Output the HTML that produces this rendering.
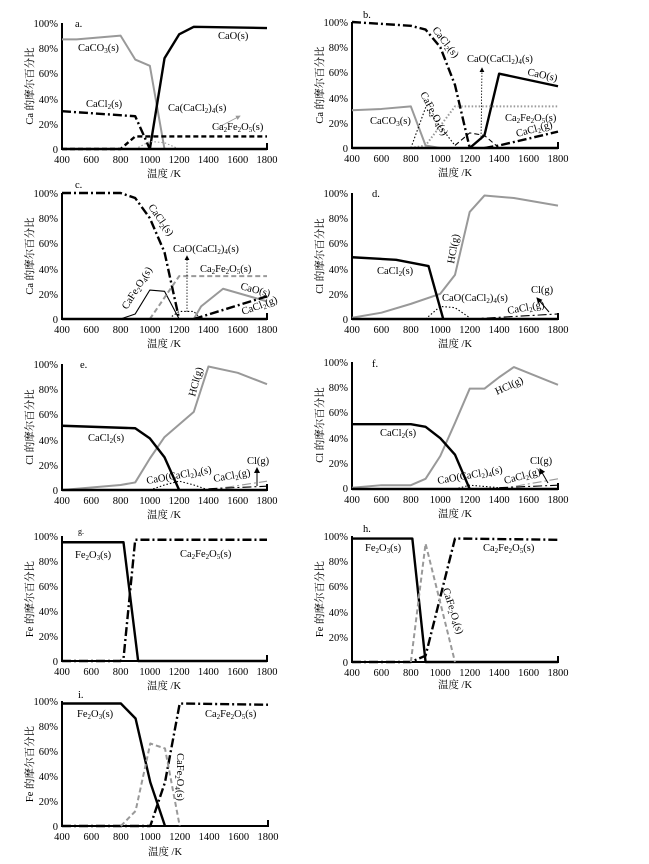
<!DOCTYPE html>
<html><head><meta charset="utf-8"><style>
html,body{margin:0;padding:0;background:#fff;}
svg{display:block;font-family:"Liberation Serif","Noto Serif CJK SC",serif;}
.ax{fill:none;stroke:#000;stroke-width:2}
.tk{font-size:10.5px}
.lb{font-size:10.5px}
.d{fill:none;vector-effect:non-scaling-stroke;stroke-linejoin:round}
.k{stroke:#000;stroke-width:2.4}
.g{stroke:#999;stroke-width:2}
.dd{stroke-dasharray:9 3 2 3}
.da{stroke-dasharray:5 3}
.do{stroke-dasharray:1.5 2}
.thin{stroke-width:1.1}
</style></head><body>
<svg width="649" height="864" viewBox="0 0 649 864" xmlns="http://www.w3.org/2000/svg">
<defs><marker id="ar" markerWidth="6" markerHeight="6" refX="5" refY="3" orient="auto"><path d="M0,0 L6,3 L0,6 z" fill="#000"/></marker>
<marker id="arg" markerWidth="6" markerHeight="6" refX="5" refY="3" orient="auto"><path d="M0,0 L6,3 L0,6 z" fill="#999"/></marker></defs>

<!-- Panel a -->
<g transform="translate(62,23)">
<path class="ax" d="M0,0 V126 H205 V120"/>
<g class="tk" text-anchor="end"><text x="-4" y="4">100%</text><text x="-4" y="29">80%</text><text x="-4" y="54">60%</text><text x="-4" y="80">40%</text><text x="-4" y="105">20%</text><text x="-4" y="130">0</text></g>
<g class="tk" text-anchor="middle"><text x="0" y="140">400</text><text x="29.3" y="140">600</text><text x="58.6" y="140">800</text><text x="87.9" y="140">1000</text><text x="117.1" y="140">1200</text><text x="146.4" y="140">1400</text><text x="175.7" y="140">1600</text><text x="205" y="140">1800</text></g>
<text class="lb" x="102" y="154" text-anchor="middle">温度 /K</text>
<text class="lb" transform="translate(-29,63) rotate(-90)" text-anchor="middle">Ca 的摩尔百分比</text>
<g transform="translate(0,126) scale(0.14643,-1.26) translate(-400,0)">
<polyline class="d g" points="400,87 500,87 800,90 900,71 1000,66 1100,0"/>
<polyline class="d k" points="1000,0 1100,72 1200,91 1300,97 1800,96"/>
<polyline class="d k dd" points="400,30 900,26 1000,0"/>
<polyline class="d k da" points="400,0 800,0 900,10 1800,10"/>
<polyline class="d g do thin" points="900,0 1000,6 1100,5 1200,0"/>
<polyline class="d k" points="400,0 1800,0"/>
</g></g>
<line x1="217" y1="128" x2="240" y2="116" stroke="#999" stroke-width="0.8" marker-end="url(#arg)"/>
<g class="lb"><text x="75" y="27">a.</text><text x="78" y="51">CaCO<tspan font-size="7" dy="2">3</tspan><tspan dy="-2">(s)</tspan></text>
<text x="218" y="39">CaO(s)</text><text x="86" y="107">CaCl<tspan font-size="7" dy="2">2</tspan><tspan dy="-2">(s)</tspan></text>
<text x="168" y="111">Ca(CaCl<tspan font-size="7" dy="2">2</tspan><tspan dy="-2">)</tspan><tspan font-size="7" dy="2">4</tspan><tspan dy="-2">(s)</tspan></text>
<text x="212" y="130">Ca<tspan font-size="7" dy="2">2</tspan><tspan dy="-2">Fe</tspan><tspan font-size="7" dy="2">2</tspan><tspan dy="-2">O</tspan><tspan font-size="7" dy="2">5</tspan><tspan dy="-2">(s)</tspan></text></g>

<!-- Panel b -->
<g transform="translate(352,22)">
<path class="ax" d="M0,0 V126 H206 V120"/>
<g class="tk" text-anchor="end"><text x="-4" y="4">100%</text><text x="-4" y="29">80%</text><text x="-4" y="54">60%</text><text x="-4" y="80">40%</text><text x="-4" y="105">20%</text><text x="-4" y="130">0</text></g>
<g class="tk" text-anchor="middle"><text x="0" y="140">400</text><text x="29.4" y="140">600</text><text x="58.9" y="140">800</text><text x="88.3" y="140">1000</text><text x="117.7" y="140">1200</text><text x="147.1" y="140">1400</text><text x="176.6" y="140">1600</text><text x="206" y="140">1800</text></g>
<text class="lb" x="103" y="154" text-anchor="middle">温度 /K</text>
<text class="lb" transform="translate(-29,63) rotate(-90)" text-anchor="middle">Ca 的摩尔百分比</text>
<g transform="translate(0,126) scale(0.14714,-1.26) translate(-400,0)">
<polyline class="d k dd" points="400,100 800,97 900,94 1000,80 1100,50 1200,0"/>
<polyline class="d k" points="1200,0 1300,10 1400,59 1800,49"/>
<polyline class="d g" points="400,30 600,31 800,33 900,2 1000,0"/>
<polyline class="d k do thin" points="800,0 900,32 1100,2"/>
<polyline class="d g do" points="800,0 900,2 1100,33 1800,33"/>
<polyline class="d k da thin" points="1100,2 1200,12 1300,10 1400,0"/>
<polyline class="d k dd" points="1300,0 1400,2 1800,13"/>
<polyline class="d k" points="400,0 1800,0"/>
</g></g>
<line x1="481" y1="140" x2="482" y2="68" stroke="#000" stroke-width="0.8" stroke-dasharray="1.5 1.5" marker-end="url(#ar)"/>
<g class="lb"><text x="363" y="18">b.</text>
<text transform="translate(432,30) rotate(52)">CaCl<tspan font-size="7" dy="2">2</tspan><tspan dy="-2">(s)</tspan></text>
<text x="467" y="62">CaO(CaCl<tspan font-size="7" dy="2">2</tspan><tspan dy="-2">)</tspan><tspan font-size="7" dy="2">4</tspan><tspan dy="-2">(s)</tspan></text>
<text transform="translate(527,75) rotate(12)">CaO(s)</text>
<text x="370" y="124">CaCO<tspan font-size="7" dy="2">3</tspan><tspan dy="-2">(s)</tspan></text>
<text transform="translate(420,94) rotate(62)">CaFe<tspan font-size="7" dy="2">2</tspan><tspan dy="-2">O</tspan><tspan font-size="7" dy="2">4</tspan><tspan dy="-2">(s)</tspan></text>
<text x="505" y="121">Ca<tspan font-size="7" dy="2">2</tspan><tspan dy="-2">Fe</tspan><tspan font-size="7" dy="2">2</tspan><tspan dy="-2">O</tspan><tspan font-size="7" dy="2">5</tspan><tspan dy="-2">(s)</tspan></text>
<text transform="translate(517,137) rotate(-15)">CaCl<tspan font-size="7" dy="2">2</tspan><tspan dy="-2">(g)</tspan></text></g>

<!-- Panel c -->
<g transform="translate(62,193)">
<path class="ax" d="M0,0 V126 H205 V120"/>
<g class="tk" text-anchor="end"><text x="-4" y="4">100%</text><text x="-4" y="29">80%</text><text x="-4" y="54">60%</text><text x="-4" y="80">40%</text><text x="-4" y="105">20%</text><text x="-4" y="130">0</text></g>
<g class="tk" text-anchor="middle"><text x="0" y="140">400</text><text x="29.3" y="140">600</text><text x="58.6" y="140">800</text><text x="87.9" y="140">1000</text><text x="117.1" y="140">1200</text><text x="146.4" y="140">1400</text><text x="175.7" y="140">1600</text><text x="205" y="140">1800</text></g>
<text class="lb" x="102" y="154" text-anchor="middle">温度 /K</text>
<text class="lb" transform="translate(-29,63) rotate(-90)" text-anchor="middle">Ca 的摩尔百分比</text>
<g transform="translate(0,126) scale(0.14643,-1.26) translate(-400,0)">
<polyline class="d k dd" points="400,100 800,100 900,96 1000,80 1100,53 1200,0"/>
<polyline class="d k thin" points="800,0 900,4 1000,23 1100,22 1200,0"/>
<polyline class="d g da" points="1000,0 1200,34 1800,34"/>
<polyline class="d k do thin" points="1150,2 1200,6 1300,6 1350,0"/>
<polyline class="d g" points="1300,0 1350,10 1500,24 1800,14"/>
<polyline class="d k dd" points="1300,0 1800,18"/>
<polyline class="d k" points="400,0 1800,0"/>
</g></g>
<line x1="187" y1="312" x2="187" y2="256" stroke="#000" stroke-width="0.8" stroke-dasharray="1.5 1.5" marker-end="url(#ar)"/>
<g class="lb"><text x="75" y="188">c.</text>
<text transform="translate(148,207) rotate(55)">CaCl<tspan font-size="7" dy="2">2</tspan><tspan dy="-2">(s)</tspan></text>
<text x="173" y="252">CaO(CaCl<tspan font-size="7" dy="2">2</tspan><tspan dy="-2">)</tspan><tspan font-size="7" dy="2">4</tspan><tspan dy="-2">(s)</tspan></text>
<text x="200" y="272">Ca<tspan font-size="7" dy="2">2</tspan><tspan dy="-2">Fe</tspan><tspan font-size="7" dy="2">2</tspan><tspan dy="-2">O</tspan><tspan font-size="7" dy="2">5</tspan><tspan dy="-2">(s)</tspan></text>
<text transform="translate(127,310) rotate(-58)">CaFe<tspan font-size="7" dy="2">2</tspan><tspan dy="-2">O</tspan><tspan font-size="7" dy="2">4</tspan><tspan dy="-2">(s)</tspan></text>
<text transform="translate(240,289) rotate(15)">CaO(s)</text>
<text transform="translate(243,315) rotate(-20)">CaCl<tspan font-size="7" dy="2">2</tspan><tspan dy="-2">(g)</tspan></text></g>

<!-- Panel d -->
<g transform="translate(352,193)">
<path class="ax" d="M0,0 V126 H206 V120"/>
<g class="tk" text-anchor="end"><text x="-4" y="4">100%</text><text x="-4" y="29">80%</text><text x="-4" y="54">60%</text><text x="-4" y="80">40%</text><text x="-4" y="105">20%</text><text x="-4" y="130">0</text></g>
<g class="tk" text-anchor="middle"><text x="0" y="140">400</text><text x="29.4" y="140">600</text><text x="58.9" y="140">800</text><text x="88.3" y="140">1000</text><text x="117.7" y="140">1200</text><text x="147.1" y="140">1400</text><text x="176.6" y="140">1600</text><text x="206" y="140">1800</text></g>
<text class="lb" x="103" y="154" text-anchor="middle">温度 /K</text>
<text class="lb" transform="translate(-29,63) rotate(-90)" text-anchor="middle">Cl 的摩尔百分比</text>
<g transform="translate(0,126) scale(0.14714,-1.26) translate(-400,0)">
<polyline class="d g" points="400,1 600,5 800,12 1000,20 1100,35 1200,85 1300,98 1500,96 1800,90"/>
<polyline class="d k" points="400,49 700,47 920,42 1020,0"/>
<polyline class="d k do thin" points="900,0 1000,10 1100,9 1200,1"/>
<polyline class="d k dd thin" points="1200,0 1800,4"/>
<polyline class="d k" points="400,0 1800,0"/>
</g></g>
<line x1="549" y1="312" x2="537" y2="298" stroke="#000" stroke-width="1" marker-end="url(#ar)"/>
<g class="lb"><text x="372" y="197">d.</text>
<text transform="translate(454,264) rotate(-80)">HCl(g)</text>
<text x="377" y="274">CaCl<tspan font-size="7" dy="2">2</tspan><tspan dy="-2">(s)</tspan></text>
<text x="442" y="301">CaO(CaCl<tspan font-size="7" dy="2">2</tspan><tspan dy="-2">)</tspan><tspan font-size="7" dy="2">4</tspan><tspan dy="-2">(s)</tspan></text>
<text transform="translate(508,314) rotate(-10)">CaCl<tspan font-size="7" dy="2">2</tspan><tspan dy="-2">(g)</tspan></text>
<text x="531" y="293">Cl(g)</text></g>

<!-- Panel e -->
<g transform="translate(62,364)">
<path class="ax" d="M0,0 V126 H205 V120"/>
<g class="tk" text-anchor="end"><text x="-4" y="4">100%</text><text x="-4" y="29">80%</text><text x="-4" y="54">60%</text><text x="-4" y="80">40%</text><text x="-4" y="105">20%</text><text x="-4" y="130">0</text></g>
<g class="tk" text-anchor="middle"><text x="0" y="140">400</text><text x="29.3" y="140">600</text><text x="58.6" y="140">800</text><text x="87.9" y="140">1000</text><text x="117.1" y="140">1200</text><text x="146.4" y="140">1400</text><text x="175.7" y="140">1600</text><text x="205" y="140">1800</text></g>
<text class="lb" x="102" y="154" text-anchor="middle">温度 /K</text>
<text class="lb" transform="translate(-29,63) rotate(-90)" text-anchor="middle">Cl 的摩尔百分比</text>
<g transform="translate(0,126) scale(0.14643,-1.26) translate(-400,0)">
<polyline class="d g" points="400,0 800,4 900,6 1000,25 1100,42 1300,62 1400,98 1600,93 1800,84"/>
<polyline class="d k" points="400,51 900,49 1000,41 1100,26 1200,0"/>
<polyline class="d k do thin" points="1000,0 1100,4 1200,7 1300,4 1400,0"/>
<polyline class="d g dd thin" points="1400,0 1800,7"/>
<polyline class="d k dd thin" points="1400,1 1800,3"/>
<polyline class="d k" points="400,0 1800,0"/>
</g></g>
<line x1="257" y1="486" x2="257" y2="468" stroke="#000" stroke-width="1" marker-end="url(#ar)"/>
<g class="lb"><text x="80" y="368">e.</text>
<text transform="translate(195,397) rotate(-75)">HCl(g)</text>
<text x="88" y="441">CaCl<tspan font-size="7" dy="2">2</tspan><tspan dy="-2">(s)</tspan></text>
<text transform="translate(147,484) rotate(-10)">CaO(CaCl<tspan font-size="7" dy="2">2</tspan><tspan dy="-2">)</tspan><tspan font-size="7" dy="2">4</tspan><tspan dy="-2">(s)</tspan></text>
<text transform="translate(214,482) rotate(-10)">CaCl<tspan font-size="7" dy="2">2</tspan><tspan dy="-2">(g)</tspan></text>
<text x="247" y="464">Cl(g)</text></g>

<!-- Panel f -->
<g transform="translate(352,362)">
<path class="ax" d="M0,0 V127 H206 V121"/>
<g class="tk" text-anchor="end"><text x="-4" y="4">100%</text><text x="-4" y="29">80%</text><text x="-4" y="54">60%</text><text x="-4" y="80">40%</text><text x="-4" y="105">20%</text><text x="-4" y="130">0</text></g>
<g class="tk" text-anchor="middle"><text x="0" y="141">400</text><text x="29.4" y="141">600</text><text x="58.9" y="141">800</text><text x="88.3" y="141">1000</text><text x="117.7" y="141">1200</text><text x="147.1" y="141">1400</text><text x="176.6" y="141">1600</text><text x="206" y="141">1800</text></g>
<text class="lb" x="103" y="155" text-anchor="middle">温度 /K</text>
<text class="lb" transform="translate(-29,63) rotate(-90)" text-anchor="middle">Cl 的摩尔百分比</text>
<g transform="translate(0,127) scale(0.14714,-1.27) translate(-400,0)">
<polyline class="d g" points="400,1 600,3 800,3 900,8 1000,26 1100,52 1200,79 1300,79 1400,88 1500,96 1800,82"/>
<polyline class="d k" points="400,51 800,51 900,49 1000,40 1100,27 1200,0"/>
<polyline class="d k do thin" points="1100,0 1200,3 1400,1"/>
<polyline class="d g dd thin" points="1400,0 1800,8"/>
<polyline class="d k dd thin" points="1400,1 1800,3"/>
<polyline class="d k" points="400,0 1800,0"/>
</g></g>
<line x1="548" y1="483" x2="540" y2="469" stroke="#000" stroke-width="1" marker-end="url(#ar)"/>
<g class="lb"><text x="372" y="367">f.</text>
<text transform="translate(497,395) rotate(-25)">HCl(g)</text>
<text x="380" y="436">CaCl<tspan font-size="7" dy="2">2</tspan><tspan dy="-2">(s)</tspan></text>
<text transform="translate(438,484) rotate(-10)">CaO(CaCl<tspan font-size="7" dy="2">2</tspan><tspan dy="-2">)</tspan><tspan font-size="7" dy="2">4</tspan><tspan dy="-2">(s)</tspan></text>
<text transform="translate(505,484) rotate(-15)">CaCl<tspan font-size="7" dy="2">2</tspan><tspan dy="-2">(g)</tspan></text>
<text x="530" y="464">Cl(g)</text></g>

<!-- Panel g -->
<g transform="translate(62,536)">
<path class="ax" d="M0,0 V125 H205 V119"/>
<g class="tk" text-anchor="end"><text x="-4" y="4">100%</text><text x="-4" y="29">80%</text><text x="-4" y="54">60%</text><text x="-4" y="79">40%</text><text x="-4" y="104">20%</text><text x="-4" y="129">0</text></g>
<g class="tk" text-anchor="middle"><text x="0" y="139">400</text><text x="29.3" y="139">600</text><text x="58.6" y="139">800</text><text x="87.9" y="139">1000</text><text x="117.1" y="139">1200</text><text x="146.4" y="139">1400</text><text x="175.7" y="139">1600</text><text x="205" y="139">1800</text></g>
<text class="lb" x="102" y="153" text-anchor="middle">温度 /K</text>
<text class="lb" transform="translate(-29,63) rotate(-90)" text-anchor="middle">Fe 的摩尔百分比</text>
<g transform="translate(0,125) scale(0.14643,-1.25) translate(-400,0)">
<polyline class="d k" points="400,95 820,95 920,0 1800,0"/>
<polyline class="d k dd" points="400,0 800,0 820,2 900,97 1800,97"/>
</g></g>
<g class="lb"><text x="78" y="534" font-size="8">g.</text>
<text x="75" y="558">Fe<tspan font-size="7" dy="2">2</tspan><tspan dy="-2">O</tspan><tspan font-size="7" dy="2">3</tspan><tspan dy="-2">(s)</tspan></text>
<text x="180" y="557">Ca<tspan font-size="7" dy="2">2</tspan><tspan dy="-2">Fe</tspan><tspan font-size="7" dy="2">2</tspan><tspan dy="-2">O</tspan><tspan font-size="7" dy="2">5</tspan><tspan dy="-2">(s)</tspan></text></g>

<!-- Panel h -->
<g transform="translate(352,536)">
<path class="ax" d="M0,0 V126 H206 V120"/>
<g class="tk" text-anchor="end"><text x="-4" y="4">100%</text><text x="-4" y="29">80%</text><text x="-4" y="54">60%</text><text x="-4" y="80">40%</text><text x="-4" y="105">20%</text><text x="-4" y="130">0</text></g>
<g class="tk" text-anchor="middle"><text x="0" y="140">400</text><text x="29.4" y="140">600</text><text x="58.9" y="140">800</text><text x="88.3" y="140">1000</text><text x="117.7" y="140">1200</text><text x="147.1" y="140">1400</text><text x="176.6" y="140">1600</text><text x="206" y="140">1800</text></g>
<text class="lb" x="103" y="152" text-anchor="middle">温度 /K</text>
<text class="lb" transform="translate(-29,63) rotate(-90)" text-anchor="middle">Fe 的摩尔百分比</text>
<g transform="translate(0,126) scale(0.14714,-1.26) translate(-400,0)">
<polyline class="d k" points="400,98 810,98 900,0 1800,0"/>
<polyline class="d k dd" points="400,0 800,0 900,5 1100,98 1800,97"/>
<polyline class="d g da" points="800,0 900,94 1100,0"/>
</g></g>
<g class="lb"><text x="363" y="532">h.</text>
<text x="365" y="551">Fe<tspan font-size="7" dy="2">2</tspan><tspan dy="-2">O</tspan><tspan font-size="7" dy="2">3</tspan><tspan dy="-2">(s)</tspan></text>
<text x="483" y="551">Ca<tspan font-size="7" dy="2">2</tspan><tspan dy="-2">Fe</tspan><tspan font-size="7" dy="2">2</tspan><tspan dy="-2">O</tspan><tspan font-size="7" dy="2">5</tspan><tspan dy="-2">(s)</tspan></text>
<text transform="translate(450,612) rotate(72)" text-anchor="middle">CaFe<tspan font-size="7" dy="2">2</tspan><tspan dy="-2">O</tspan><tspan font-size="7" dy="2">4</tspan><tspan dy="-2">(s)</tspan></text></g>

<!-- Panel i -->
<g transform="translate(62,701)">
<path class="ax" d="M0,0 V125 H206 V119"/>
<g class="tk" text-anchor="end"><text x="-4" y="4">100%</text><text x="-4" y="29">80%</text><text x="-4" y="54">60%</text><text x="-4" y="79">40%</text><text x="-4" y="104">20%</text><text x="-4" y="129">0</text></g>
<g class="tk" text-anchor="middle"><text x="0" y="139">400</text><text x="29.4" y="139">600</text><text x="58.9" y="139">800</text><text x="88.3" y="139">1000</text><text x="117.7" y="139">1200</text><text x="147.1" y="139">1400</text><text x="176.6" y="139">1600</text><text x="206" y="139">1800</text></g>
<text class="lb" x="103" y="154" text-anchor="middle">温度 /K</text>
<text class="lb" transform="translate(-29,63) rotate(-90)" text-anchor="middle">Fe 的摩尔百分比</text>
<g transform="translate(0,125) scale(0.14714,-1.25) translate(-400,0)">
<polyline class="d k" points="400,98 800,98 900,86 1000,35 1100,0"/>
<polyline class="d k dd" points="400,0 1000,0 1100,35 1200,98 1800,97"/>
<polyline class="d g da" points="800,0 900,12 1000,66 1100,62 1200,0"/>
</g></g>
<g class="lb"><text x="78" y="698">i.</text>
<text x="77" y="717">Fe<tspan font-size="7" dy="2">2</tspan><tspan dy="-2">O</tspan><tspan font-size="7" dy="2">3</tspan><tspan dy="-2">(s)</tspan></text>
<text x="205" y="717">Ca<tspan font-size="7" dy="2">2</tspan><tspan dy="-2">Fe</tspan><tspan font-size="7" dy="2">2</tspan><tspan dy="-2">O</tspan><tspan font-size="7" dy="2">5</tspan><tspan dy="-2">(s)</tspan></text>
<text transform="translate(177,777) rotate(90)" text-anchor="middle">CaFe<tspan font-size="7" dy="2">2</tspan><tspan dy="-2">O</tspan><tspan font-size="7" dy="2">4</tspan><tspan dy="-2">(s)</tspan></text></g>
</svg>
</body></html>
